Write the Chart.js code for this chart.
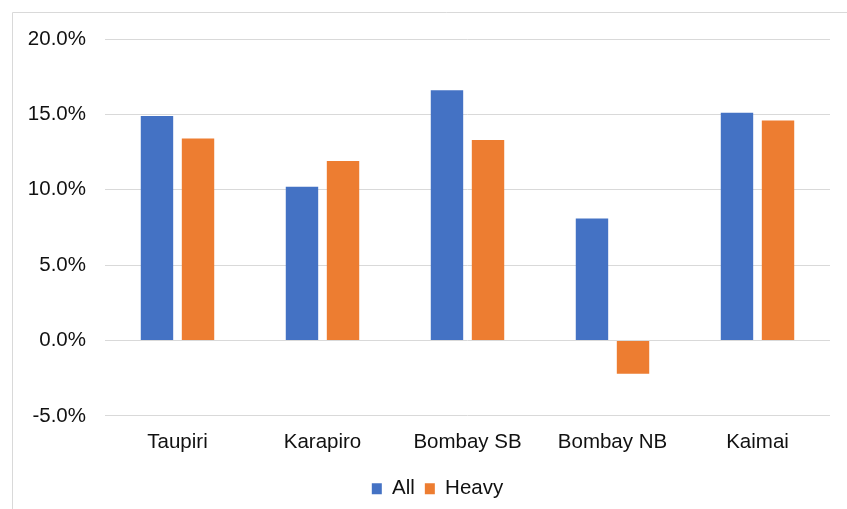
<!DOCTYPE html>
<html>
<head>
<meta charset="utf-8">
<script src="https://cdn.jsdelivr.net/npm/chart.js@4/dist/chart.umd.min.js"></script>
<style>
  html, body { margin: 0; padding: 0; background: #fff; overflow: hidden; }
  #wrap { position: absolute; left: 0; top: 0; width: 847px; height: 509px; overflow: hidden; }
</style>
</head>
<body>
<div id="wrap"><canvas id="chart" width="880" height="509"></canvas></div>
<script>
// Sites along the corridor
const categories = ['Taupiri', 'Karapiro', 'Bombay SB', 'Bombay NB', 'Kaimai'];
// Percentage change, all vehicles vs heavy vehicles
const allValues = [14.9, 10.2, 16.6, 8.1, 15.1];
const heavyValues = [13.4, 11.9, 13.3, -2.2, 14.6];
// Value axis range and step (percent)
const yMin = -5;
const yMax = 20;
const yStep = 5;

const FONT = 'Arial, "Liberation Sans", sans-serif';

// Thin light frame around the chart object
const framePlugin = {
  id: 'frame',
  beforeDraw(chart) {
    const ctx = chart.ctx;
    ctx.save();
    ctx.strokeStyle = '#d9d9d9';
    ctx.lineWidth = 1;
    ctx.beginPath();
    ctx.moveTo(12.5, chart.height);
    ctx.lineTo(12.5, 12.5);
    ctx.lineTo(chart.width, 12.5);
    ctx.stroke();
    ctx.restore();
  }
};

new Chart(document.getElementById('chart'), {
  type: 'bar',
  data: {
    labels: categories,
    datasets: [
      { label: 'All', data: allValues, backgroundColor: '#4472C4' },
      { label: 'Heavy', data: heavyValues, backgroundColor: '#ED7D31' }
    ]
  },
  options: {
    responsive: false,
    animation: false,
    devicePixelRatio: 1,
    categoryPercentage: 0.566,
    barPercentage: 0.79,
    layout: { padding: { left: 12, right: 17, top: 39, bottom: 0 } },
    plugins: {
      legend: {
        position: 'bottom',
        labels: {
          boxWidth: 10,
          boxHeight: 11,
          padding: 10,
          color: '#111',
          font: { family: FONT, size: 20.5 }
        }
      },
      tooltip: { enabled: false }
    },
    scales: {
      x: {
        grid: { display: false, drawTicks: false },
        border: { display: false },
        ticks: {
          color: '#111',
          padding: 14,
          font: { family: FONT, size: 20.5 }
        }
      },
      y: {
        min: yMin,
        max: yMax,
        afterFit(scale) { scale.width = 93; },
        grid: { color: '#d9d9d9', lineWidth: 1, drawTicks: false },
        border: { display: false },
        ticks: {
          stepSize: yStep,
          color: '#111',
          padding: 19,
          font: { family: FONT, size: 20.5 },
          callback: (v) => v.toFixed(1) + '%'
        }
      },
      // blank margin to the right of the plot
      yRight: {
        position: 'right',
        min: yMin,
        max: yMax,
        afterFit(scale) { scale.width = 33; },
        grid: { display: false, drawTicks: false },
        border: { display: false },
        ticks: { display: false }
      }
    }
  },
  plugins: [framePlugin]
});
</script>
</body>
</html>
